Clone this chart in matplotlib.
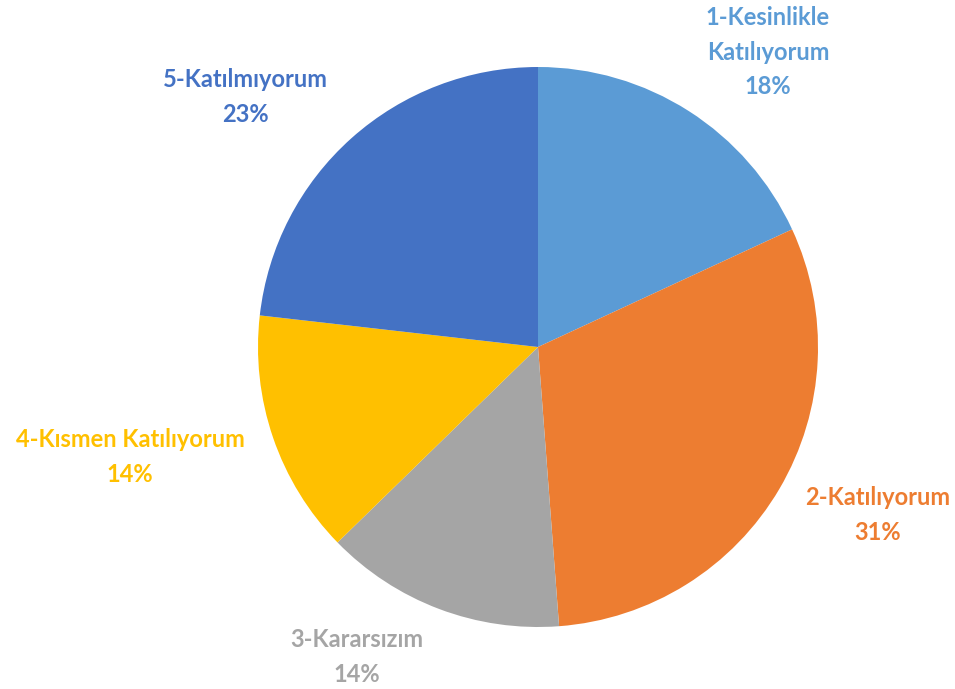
import matplotlib.pyplot as plt

categories = ['1-Kesinlikle\nKatılıyorum', '2-Katılıyorum', '3-Kararsızım',
              '4-Kısmen Katılıyorum', '5-Katılmıyorum']
# shares; labels show them rounded
values = [18.1, 30.7, 13.9, 14.1, 23.2]
colors = ['#5B9BD5', '#ED7D31', '#A5A5A5', '#FFC000', '#4472C4']
# label centres in pixel coords (x, y from top)
label_pos = [(768, 52), (878, 515), (357, 657), (130, 457), (245, 97)]

W, H = 955, 689
fig = plt.figure(figsize=(W / 100, H / 100), dpi=100)
ax = fig.add_axes([0, 0, 1, 1])

ax.pie(values, colors=colors, startangle=90, counterclock=False,
       center=(538, H - 347), radius=280, frame=True)
ax.set_xlim(0, W)
ax.set_ylim(0, H)
ax.set_aspect('equal')
ax.axis('off')

total = sum(values)
for cat, v, c, (x, y) in zip(categories, values, colors, label_pos):
    ax.text(x, H - y, f'{cat}\n{round(v / total * 100)}%', color=c,
            ha='center', va='center', fontsize=17, fontweight='bold',
            family='Lato', linespacing=1.6)

fig.savefig('out.png', dpi=100)
